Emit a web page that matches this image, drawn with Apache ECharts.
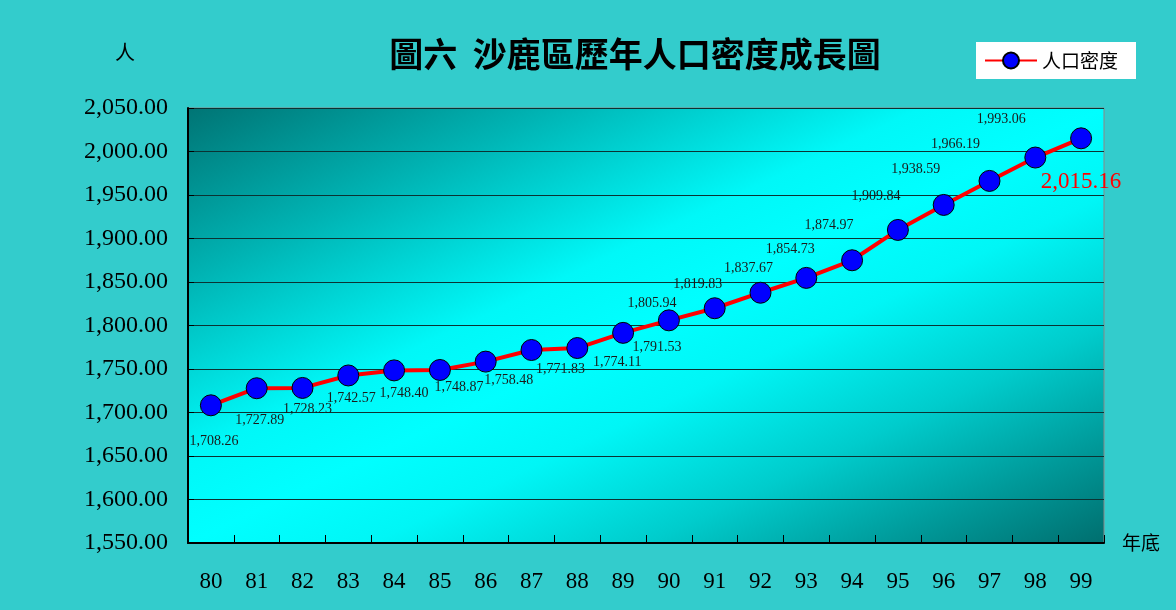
<!DOCTYPE html>
<html>
<head>
<meta charset="utf-8">
<script src="https://cdn.jsdelivr.net/npm/echarts@6/dist/echarts.min.js"></script>
<style>html,body{margin:0;padding:0;background:#33CCCC;}#c{width:1176px;height:610px;}</style>
</head>
<body>
<div id="c"></div>
<script>
var years = ['80','81','82','83','84','85','86','87','88','89','90','91','92','93','94','95','96','97','98','99'];
var density = [1708.26,1727.89,1728.23,1742.57,1748.40,1748.87,1758.48,1771.83,1774.11,1791.53,1805.94,1819.83,1837.67,1854.73,1874.97,1909.84,1938.59,1966.19,1993.06,2015.16];
var yTicks = {min:1550, max:2050, interval:50};
// label offsets (layout only)
var labelOffsets = [[3,36],[3,32],[5,21],[3,23],[10,23],[19,17],[23,19],[29,19],[40,14],[34,14],
  [-17,-17],[-17,-24],[-12,-24],[-16,-29],[-23,-35],[-22,-34],[-28,-36],[-34,-37],[-34,-38],[0,44]];

function fmt(v){ return v.toLocaleString('en-US',{minimumFractionDigits:2,maximumFractionDigits:2}); }

var numFont = '"Liberation Serif", "DejaVu Serif", serif';
var seriesData = density.map(function(v,i){
  var last = i === density.length-1;
  return {
    value: v,
    label: {
      show: true, position: 'inside', offset: labelOffsets[i],
      formatter: function(p){ return fmt(p.value); },
      color: last ? '#FF0000' : '#1a1a1a',
      fontSize: last ? 23 : 14,
      fontFamily: numFont
    }
  };
});

var chart = echarts.init(document.getElementById('c'));
chart.setOption({
  backgroundColor: '#33CCCC',
  animation: false,
  title: {
    text: '圖六  沙鹿區歷年人口密度成長圖',
    left: 630, top: 32, textAlign: 'center',
    textStyle: {fontFamily: '"Noto Sans CJK TC"', fontWeight: 'bold', fontSize: 34, color: '#000'}
  },
  legend: {
    left: 976, top: 42, width: 150,
    backgroundColor: '#FFFFFF',
    padding: [9, 18, 9, 8],
    itemWidth: 52, itemHeight: 20,
    textStyle: {fontFamily: '"Noto Sans CJK TC"', fontSize: 19, color: '#000'},
    data: ['人口密度']
  },
  grid: {
    left: 188, right: 72, top: 108, bottom: 67,
    show: true, borderColor: '#888', borderWidth: 1,
    backgroundColor: {
      type: 'linear', x: 0, y: 0, x2: 0.368, y2: 1.632,
      colorStops: [
        {offset: 0, color: '#007474'},
        {offset: 0.2, color: '#00b4b4'},
        {offset: 0.4, color: '#00f8f8'},
        {offset: 0.5, color: '#00ffff'},
        {offset: 0.6, color: '#00f6f6'},
        {offset: 0.75, color: '#00cccc'},
        {offset: 0.88, color: '#009a9a'},
        {offset: 1, color: '#006e6e'}
      ]
    }
  },
  xAxis: {
    type: 'category', data: years, boundaryGap: true,
    name: '年底', nameLocation: 'end', nameGap: 18,
    nameTextStyle: {fontFamily: '"Noto Sans CJK TC"', fontSize: 19, color: '#000', padding: [78,0,0,0]},
    axisLine: {lineStyle: {color: '#000', width: 2}},
    axisTick: {show: true, inside: true, length: 8, lineStyle: {color: '#000'}},
    axisLabel: {margin: 27, fontSize: 23, fontFamily: numFont, color: '#000'}
  },
  yAxis: {
    type: 'value', min: yTicks.min, max: yTicks.max, interval: yTicks.interval,
    name: '人', nameLocation: 'end', nameGap: 46,
    nameTextStyle: {fontFamily: '"Noto Sans CJK TC"', fontSize: 20, color: '#000', padding: [0,126,0,0]},
    axisLine: {show: true, lineStyle: {color: '#000', width: 2}},
    axisTick: {show: true, inside: true, length: 6, lineStyle: {color: '#000'}},
    axisLabel: {margin: 20, fontSize: 24, fontFamily: numFont, color: '#000', formatter: function(v){ return fmt(v); }},
    splitLine: {show: true, lineStyle: {color: '#0b3333', width: 1}}
  },
  series: [{
    name: '人口密度', type: 'line', data: seriesData,
    lineStyle: {color: '#FF0000', width: 4},
    itemStyle: {color: '#0000FF', borderColor: '#000', borderWidth: 1},
    symbol: 'circle', symbolSize: 21,
    z: 3
  }]
});
</script>
</body>
</html>
